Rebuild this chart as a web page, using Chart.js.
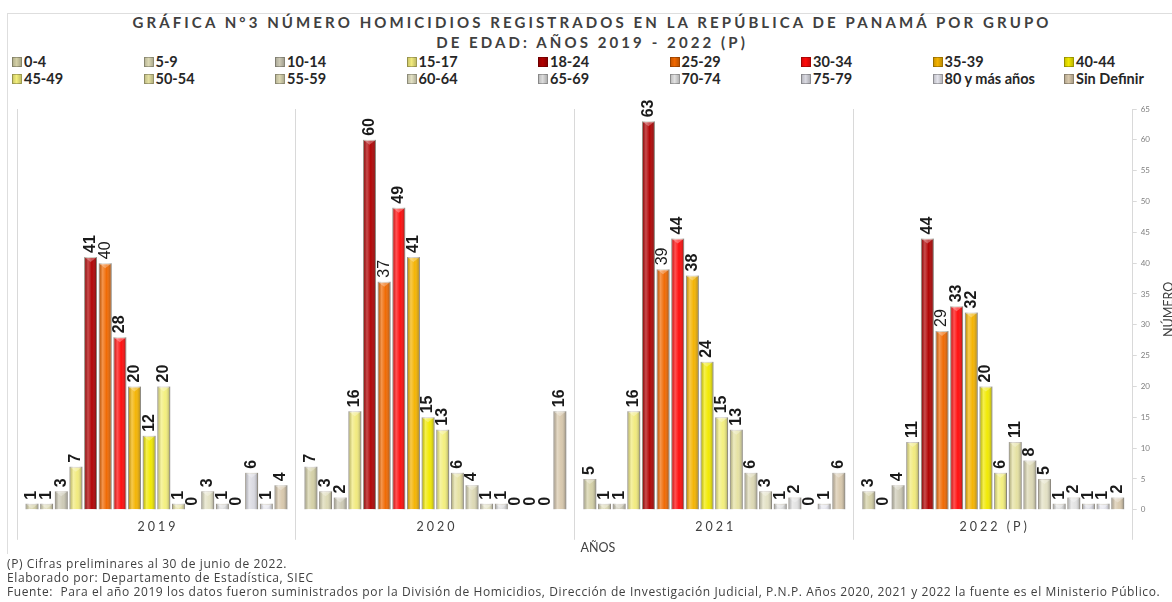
<!DOCTYPE html>
<html lang="es">
<head>
<meta charset="utf-8">
<title>Homicidios por grupo de edad 2019-2022</title>
<script src="https://cdn.jsdelivr.net/npm/chart.js@4.4.1/dist/chart.umd.min.js"></script>
<style>
  html, body { margin: 0; padding: 0; background: #fff; }
  body { width: 1172px; height: 602px; overflow: hidden; position: relative; font-family: Lato, 'Open Sans', sans-serif; color: #404040; }
  #frame { position: absolute; left: 7px; top: 13px; width: 1200px; height: 540px; border-left: 1px solid #dedede; border-top: 1px solid #dedede; }
  #title { position: absolute; top: 12px; left: 6px; width: 1172px; text-align: center; font-weight: bold; font-size: 15px; letter-spacing: 3.1px; line-height: 20px; color: #404040; }
  #legend { position: absolute; left: 12px; top: 53px; display: grid; grid-template-columns: repeat(9, 131.5px); font-weight: bold; font-size: 14.5px; line-height: 17px; color: #262626; }
  .item { display: flex; align-items: center; white-space: nowrap; }
  .swatch { width: 8px; height: 8px; margin-right: 2px; border: 1px solid rgba(0,0,0,0.25); }
  #chart-box { position: absolute; left: 0; top: 92px; width: 1172px; height: 466px; }
  #notes { position: absolute; left: 7px; top: 557px; font-family: 'Open Sans', sans-serif; font-size: 12px; letter-spacing: 0.6px; line-height: 14px; color: #404040; white-space: nowrap; }
</style>
</head>
<body>
<div id="frame"></div>
<div id="title">GRÁFICA N°3 NÚMERO HOMICIDIOS REGISTRADOS EN LA REPÚBLICA DE PANAMÁ POR GRUPO<br>DE EDAD: AÑOS 2019 - 2022 (P)</div>
<div id="legend"></div>
<div id="chart-box"><canvas id="homicidios-chart"></canvas></div>
<div id="notes">
  (P) Cifras preliminares al 30 de junio de 2022.<br>
  Elaborado por: Departamento de Estadística, SIEC<br>
  Fuente:&nbsp; Para el año 2019 los datos fueron suministrados por la División de Homicidios, Dirección de Investigación Judicial, P.N.P. Años 2020, 2021 y 2022 la fuente es el Ministerio Público.
</div>

<script>
// años (categorías del eje X)
const years = ['2019', '2020', '2021', '2022 (P)'];

// grupos de edad (una serie por grupo)
const ageGroups = ['0-4', '5-9', '10-14', '15-17', '18-24', '25-29', '30-34', '35-39', '40-44',
                   '45-49', '50-54', '55-59', '60-64', '65-69', '70-74', '75-79', '80 y más años', 'Sin Definir'];

// homicidios por grupo de edad, en el orden de ageGroups
const homicidios2019 = [1, 1, 3, 7, 41, 40, 28, 20, 12, 20, 1, 0, 3, 1, 0, 6, 1, 4];
const homicidios2020 = [7, 3, 2, 16, 60, 37, 49, 41, 15, 13, 6, 4, 1, 1, 0, 0, 0, 16];
const homicidios2021 = [5, 1, 1, 16, 63, 39, 44, 38, 24, 15, 13, 6, 3, 1, 2, 0, 1, 6];
const homicidios2022 = [3, 0, 4, 11, 44, 29, 33, 32, 20, 6, 11, 8, 5, 1, 2, 1, 1, 2];

const groupColors = ['#d4d0a6', '#dcd9b4', '#cdcab6', '#f1ea7c', '#b00000', '#f06800', '#ff0a0a', '#f4b300',
                     '#f1e900', '#f3ef7c', '#e5e1a2', '#dcd8b4', '#e3e1c4', '#dcdcdc', '#e2e2e2', '#dadae2',
                     '#e4e4ec', '#d8c8ac'];

// leyenda en HTML (9 columnas)
const legendBox = document.getElementById('legend');
legendBox.innerHTML = ageGroups.map((g, i) => `
  <div class="item"><span class="swatch" style="background: linear-gradient(90deg, rgba(0,0,0,0.15), ${groupColors[i]} 45%, rgba(0,0,0,0.2)), ${groupColors[i]}"></span>${g}</div>
`).join('');

const allYears = [homicidios2019, homicidios2020, homicidios2021, homicidios2022];

const datasets = ageGroups.map((g, i) => ({
  label: g,
  data: allYears.map(row => row[i]),
  backgroundColor: groupColors[i],
  borderColor: 'rgba(70, 50, 0, 0.35)',
  borderWidth: 1,
  categoryPercentage: 0.945,
  barPercentage: 0.88
}));

// sombreado tipo cilindro sobre cada barra
const barShading = {
  id: 'barShading',
  afterDatasetsDraw(chart) {
    const ctx = chart.ctx;
    chart.data.datasets.forEach((ds, i) => {
      chart.getDatasetMeta(i).data.forEach(bar => {
        const left = bar.x - bar.width / 2;
        const h = bar.base - bar.y;
        if (h <= 0) return;
        const g = ctx.createLinearGradient(left, 0, left + bar.width, 0);
        g.addColorStop(0, 'rgba(0,0,0,0.25)');
        g.addColorStop(0.3, 'rgba(255,255,255,0.3)');
        g.addColorStop(0.6, 'rgba(255,255,255,0.02)');
        g.addColorStop(1, 'rgba(0,0,0,0.35)');
        ctx.save();
        ctx.fillStyle = g;
        ctx.fillRect(left, bar.y, bar.width, h);
        // tapa superior
        ctx.beginPath();
        ctx.moveTo(left, bar.y);
        ctx.lineTo(left + bar.width, bar.y);
        ctx.lineTo(bar.x, bar.y + Math.min(5, h));
        ctx.closePath();
        ctx.fillStyle = 'rgba(255,255,255,0.3)';
        ctx.fill();
        ctx.restore();
      });
    });
  }
};

// etiquetas de valor giradas
const valueLabels = {
  id: 'valueLabels',
  afterDatasetsDraw(chart) {
    const ctx = chart.ctx;
    chart.data.datasets.forEach((ds, i) => {
      chart.getDatasetMeta(i).data.forEach((bar, j) => {
        ctx.save();
        ctx.translate(bar.x, bar.y - 4);
        ctx.rotate(-Math.PI / 2);
        ctx.font = (i === 5 ? '' : 'bold ') + '16px "Liberation Sans Narrow", "Arial Narrow", sans-serif';
        ctx.fillStyle = '#1a1a1a';
        ctx.textAlign = 'left';
        ctx.textBaseline = 'middle';
        ctx.fillText(ds.data[j], 0, 0);
        ctx.restore();
      });
    });
  }
};

// años con espaciado entre letras, título del eje X y del eje Y
const axisText = {
  id: 'axisText',
  afterDraw(chart) {
    const ctx = chart.ctx;
    const xs = chart.scales.x;
    const area = chart.chartArea;
    ctx.save();
    ctx.font = '12.5px Lato, sans-serif';
    ctx.fillStyle = '#404040';
    ctx.textAlign = 'center';
    ctx.textBaseline = 'middle';
    ctx.letterSpacing = '3px';
    years.forEach((y, i) => {
      ctx.fillText(y, xs.getPixelForValue(i) + 1.5, area.bottom + 17);
    });
    ctx.letterSpacing = '0px';
    ctx.fillText('AÑOS', 598, area.bottom + 38);
    ctx.translate(1169, (area.top + area.bottom) / 2);
    ctx.rotate(-Math.PI / 2);
    ctx.fillText('NÚMERO', 0, 0);
    ctx.restore();
  }
};

new Chart(document.getElementById('homicidios-chart'), {
  type: 'bar',
  data: { labels: years, datasets: datasets },
  options: {
    responsive: true,
    maintainAspectRatio: false,
    animation: false,
    layout: { padding: { left: 17, right: 18, top: 17, bottom: 2 } },
    plugins: { legend: { display: false }, tooltip: { enabled: false } },
    scales: {
      x: {
        grid: { offset: true, color: '#d9d9d9', tickLength: 30, drawTicks: true },
        border: { display: false },
        ticks: { color: 'rgba(0,0,0,0)', font: { size: 1 }, padding: 0 },
        title: { display: true, text: 'AÑOS', color: 'rgba(0,0,0,0)', font: { size: 12.5, family: 'Lato' }, padding: { top: 0, bottom: 0 } }
      },
      y: {
        position: 'right',
        min: 0,
        max: 65,
        ticks: { stepSize: 5, color: '#7f7f7f', font: { size: 8, family: 'Lato' }, padding: 4 },
        grid: { drawOnChartArea: false, drawTicks: true, tickLength: 4, color: '#d9d9d9' },
        border: { color: '#d9d9d9' }
      }
    }
  },
  plugins: [barShading, valueLabels, axisText]
});
</script>
</body>
</html>
